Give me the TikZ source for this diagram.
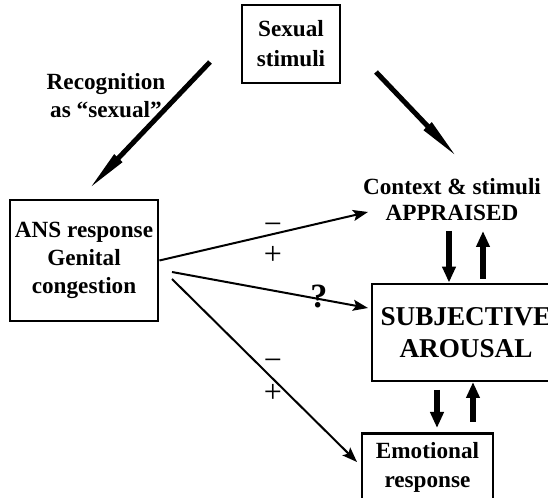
\documentclass[tikz,border=0pt]{standalone}
\usepackage{fontspec}
\setmainfont{Liberation Serif}
\usetikzlibrary{arrows.meta,positioning}

\begin{document}
\begin{tikzpicture}[x=0.5pt,y=-0.5pt,
    bx/.style={draw,line width=1.4pt,inner sep=0pt,align=center,font=\fontsize{11.6}{14}\selectfont\bfseries},
    lbl/.style={inner sep=0pt,align=center,font=\fontsize{11.6}{14}\selectfont\bfseries},
    sgn/.style={inner sep=0pt,font=\fontsize{16}{16}\selectfont},
    bigarrow/.style={line width=2.5pt,-{Triangle[length=22pt,width=5pt]}},
    thinarrow/.style={line width=1pt,-{Stealth[length=7.5pt,width=5.5pt,inset=1.5pt]}},
    fatarrow/.style={line width=3pt,-{Triangle[length=8pt,width=6.5pt]}}]
  \useasboundingbox (0,0) rectangle (548,498);
  \clip (0,0) rectangle (548,498);
  % boxes
  \node[bx,minimum width=49pt,minimum height=39pt] (stim) at (291,44) {Sexual\\[1pt]stimuli};
  \node[bx,minimum width=74pt,minimum height=60.5pt] (ans) at (84,260.5) {ANS response\\Genital\\congestion};
  \node[bx,minimum width=94pt,minimum height=48.5pt,font=\fontsize{13.6}{16}\selectfont\bfseries] (subj) at (466,332.5) {SUBJECTIVE\\AROUSAL};
  \node[bx,minimum width=65.5pt,minimum height=44pt,anchor=north] (emobox) at (427.5,432) {};
  \node[lbl,font=\fontsize{11.6}{14.5}\selectfont\bfseries] (emo) at (427.5,467.5) {Emotional\\response};
  % free labels
  \node[lbl,font=\fontsize{11.6}{13}\selectfont\bfseries] (appr) at (452,200) {Context \& stimuli\\APPRAISED};
  \node[lbl] (recog) at (106,96) {Recognition\\as “sexual”};
  % big arrows from the stimuli
  \coordinate (rec tail) at (210,62);
  \coordinate (rec tip) at (88,190);
  \draw[bigarrow] (rec tail) -- (rec tip);
  \coordinate (ctx tail) at (376,72);
  \coordinate (ctx tip) at (458,158);
  \draw[bigarrow] (ctx tail) -- (ctx tip);
  % thin arrows out of the ANS box
  \coordinate (appr in) at (368,212);
  \draw[thinarrow] (ans.east) -- (appr in);
  \coordinate (q tail) at (172,272);
  \coordinate (q tip) at (368,308);
  \draw[thinarrow] (q tail) -- (q tip);
  \coordinate (emo tail) at (172,279);
  \coordinate (emo tip) at (357,462);
  \draw[thinarrow] (emo tail) -- (emo tip);
  % signs
  \node[sgn] (m1) at (273,229) {−};
  \node[sgn] (p1) at (273,255) {+};
  \node[sgn] (m2) at (273,365) {−};
  \node[sgn] (p2) at (273,393) {+};
  \node[lbl,font=\fontsize{17}{17}\selectfont\bfseries] (qm) at (319,296) {?};
  % two-way arrows
  \coordinate (d1) at (449,231);
  \draw[fatarrow] (d1) -- (d1 |- subj.north);
  \coordinate (u1) at (483,231);
  \draw[fatarrow,shorten <=2pt] (u1 |- subj.north) -- (u1);
  \coordinate (d2) at (437,390);
  \draw[fatarrow,shorten >=2pt] (d2) -- (d2 |- emobox.north);
  \coordinate (u2) at (473,382);
  \draw[fatarrow,shorten <=5pt] (u2 |- emobox.north) -- (u2);
\end{tikzpicture}
\end{document}
